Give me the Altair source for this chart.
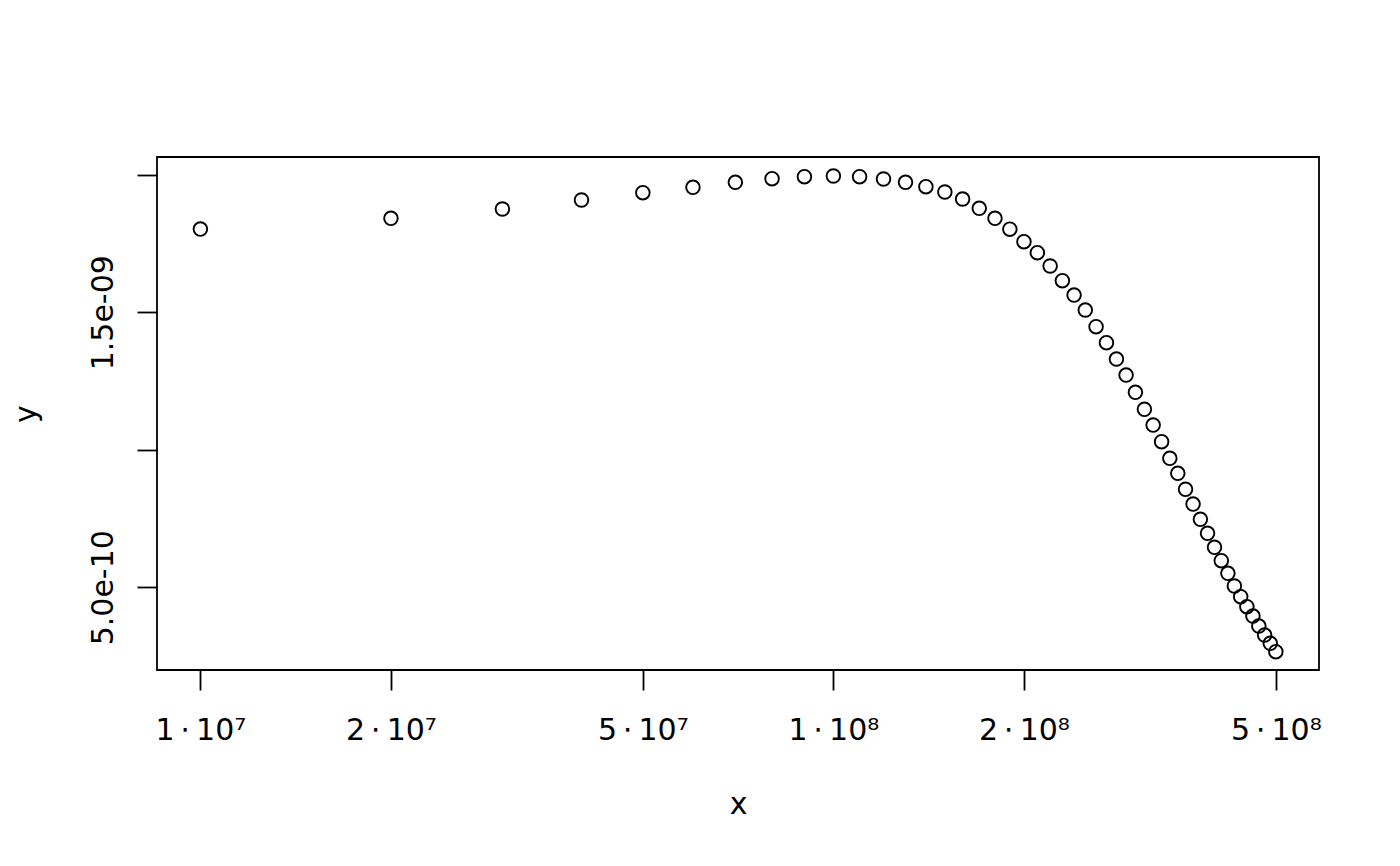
import altair as alt
import pandas as pd

# data (x in units, y in units of 1e-9)
x_vals = [1e7, 2e7, 3e7, 4e7, 5e7, 6e7, 7e7, 8e7, 9e7, 1e8,
          1.1e8, 1.2e8, 1.3e8, 1.4e8, 1.5e8, 1.6e8, 1.7e8, 1.8e8, 1.9e8, 2e8,
          2.1e8, 2.2e8, 2.3e8, 2.4e8, 2.5e8, 2.6e8, 2.7e8, 2.8e8, 2.9e8, 3e8,
          3.1e8, 3.2e8, 3.3e8, 3.4e8, 3.5e8, 3.6e8, 3.7e8, 3.8e8, 3.9e8, 4e8,
          4.1e8, 4.2e8, 4.3e8, 4.4e8, 4.5e8, 4.6e8, 4.7e8, 4.8e8, 4.9e8, 5e8]
y_nano = [1.8025, 1.8415, 1.8753, 1.9080, 1.9345, 1.9542, 1.9724, 1.9855, 1.9927, 1.9953,
          1.9927, 1.9844, 1.9724, 1.9564, 1.9371, 1.9116, 1.8778, 1.8415, 1.8020, 1.7564,
          1.7164, 1.6680, 1.6145, 1.5625, 1.5080, 1.4473, 1.3891, 1.3298, 1.2716, 1.2087,
          1.1469, 1.0898, 1.0291, 0.9687, 0.9142, 0.8560, 0.8025, 0.7469, 0.6960, 0.6451,
          0.5964, 0.5505, 0.5044, 0.4655, 0.4291, 0.3953, 0.3589, 0.3262, 0.2960, 0.2655]

x_tick_values = [1e7, 2e7, 5e7, 1e8, 2e8, 5e8]
x_tick_labels = ["1\u2009\u22c5\u200910\u2077", "2\u2009\u22c5\u200910\u2077", "5\u2009\u22c5\u200910\u2077",
                 "1\u2009\u22c5\u200910\u2078", "2\u2009\u22c5\u200910\u2078", "5\u2009\u22c5\u200910\u2078"]
y_tick_values = [5e-10, 1e-9, 1.5e-9, 2e-9]
y_tick_labels = ["5.0e-10", "", "1.5e-09", ""]

df = pd.DataFrame({"x": x_vals, "y": [v * 1e-9 for v in y_nano]})


def label_expr(values, labels, tol):
    expr = "''"
    for v, l in reversed(list(zip(values, labels))):
        expr = f"abs(datum.value - {v!r}) < {tol!r} ? '{l}' : ({expr})"
    return expr


FONT = "DejaVu Sans"

chart = alt.Chart(df).mark_point(
    shape="circle", filled=False, color="black", size=185, strokeWidth=1.9, opacity=1
).encode(
    x=alt.X("x:Q",
            scale=alt.Scale(type="log", domain=[8.54e6, 5.85e8], nice=False, zero=False),
            axis=alt.Axis(values=x_tick_values,
                          labelExpr=label_expr(x_tick_values, x_tick_labels, 1.0),
                          title="x", grid=False, domain=False,
                          tickSize=20, tickWidth=1.8, tickColor="black",
                          labelFont=FONT, labelFontSize=30, labelColor="black",
                          labelBaseline="alphabetic", labelPadding=49,
                          labelFlush=False, labelOverlap=False,
                          titleFont=FONT, titleFontSize=30, titleColor="black",
                          titleFontWeight="normal", titleBaseline="alphabetic",
                          titleY=143)),
    y=alt.Y("y:Q",
            scale=alt.Scale(domain=[0.199e-9, 2.0644e-9], nice=False, zero=False),
            axis=alt.Axis(values=y_tick_values,
                          labelExpr=label_expr(y_tick_values, y_tick_labels, 1e-12),
                          title="y", grid=False, domain=False,
                          tickSize=20, tickWidth=1.8, tickColor="black",
                          labelFont=FONT, labelFontSize=30, labelColor="black",
                          labelAngle=270, labelAlign="center", labelBaseline="alphabetic",
                          labelPadding=25, labelFlush=False, labelOverlap=False,
                          titleFont=FONT, titleFontSize=30, titleColor="black",
                          titleFontWeight="normal", titleAngle=270,
                          titleBaseline="alphabetic", titleX=-122)),
).properties(
    width=1162,
    height=513,
    autosize=alt.AutoSizeParams(type="none"),
    padding={"left": 149, "top": 149, "right": 70, "bottom": 180},
    background="white",
).configure_view(
    stroke="black", strokeWidth=1.8, fill="white"
)

chart.save("out.html", embed_options={"renderer": "svg", "actions": False})
